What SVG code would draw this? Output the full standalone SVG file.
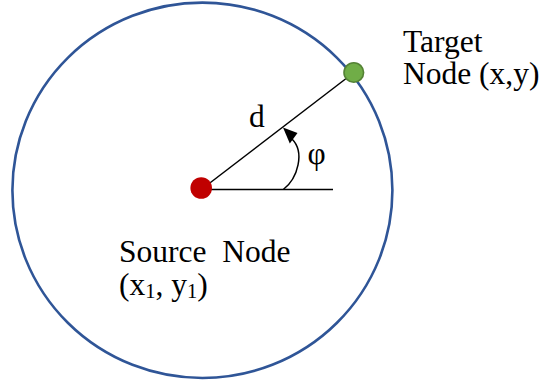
<svg xmlns="http://www.w3.org/2000/svg" width="542" height="383" viewBox="0 0 542 383">
<style>
.lbl{font-family:"Liberation Serif","Times New Roman",serif;font-size:31.5px;fill:#000}
.ln{stroke:#000;stroke-width:1.5;fill:none}
</style>
<rect width="542" height="383" fill="#fff"/>
<g id="range-circle">
<ellipse cx="202.4" cy="190.3" rx="190" ry="187.7" fill="none" stroke="#2F5597" stroke-width="2.6"/>
</g>
<g id="connectors">
<line class="ln" x1="202" y1="189" x2="352" y2="74"/>
<line class="ln" x1="203" y1="189.5" x2="333" y2="189.5"/>
<path class="ln" d="M283.3,189.5 C298,178 305,152 292,139"/>
<polygon points="283,127.5 289.8,143.5 297.5,133" fill="#000"/>
</g>
<g id="source-node">
<circle cx="201.2" cy="188" r="10.8" fill="#C00000"/>
<text class="lbl" x="119" y="261.5" xml:space="preserve">Source  Node</text>
<text class="lbl" x="119" y="295">(x<tspan font-size="20.5" dy="3">1</tspan><tspan dy="-3">, y</tspan><tspan font-size="20.5" dy="3">1</tspan><tspan dy="-3">)</tspan></text>
</g>
<g id="target-node">
<circle cx="353.8" cy="72.5" r="9.8" fill="#70AD47" stroke="#548235" stroke-width="1.6"/>
<text class="lbl" x="403" y="52" font-size="32">Target</text>
<text class="lbl" x="403" y="84" font-size="32">Node (x,y)</text>
</g>
<g id="labels">
<text class="lbl" x="249" y="126.5">d</text>
<text class="lbl" x="307.5" y="164">φ</text>
</g>
</svg>
